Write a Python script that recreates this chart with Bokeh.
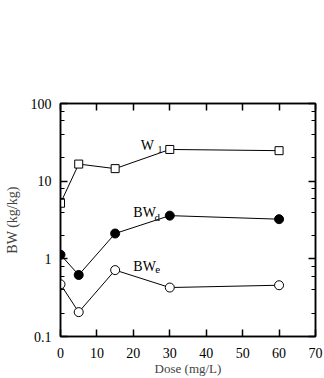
from bokeh.plotting import figure
from bokeh.models import LinearAxis, LogAxis, Label, FixedTicker, LogTicker, Range1d, CustomJSTickFormatter
from bokeh.embed import file_html
from bokeh.resources import INLINE

dose = [0, 5, 15, 30, 60]
w1 = [5.2, 16.6, 14.5, 25.6, 24.7]
bwd = [1.13, 0.62, 2.12, 3.6, 3.24]
bwe = [0.47, 0.206, 0.716, 0.427, 0.457]
x_ticks = [0, 10, 20, 30, 40, 50, 60, 70]
y_ticks = [0.1, 1, 10, 100]
y_tick_labels = ["0.1", "1", "10", "100"]
y_label = "BW (kg/kg)"
x_label = "Dose (mg/L)"

FONT = "Liberation Serif"

p = figure(width=324, height=378, output_backend="svg", toolbar_location=None,
           y_axis_type="log", x_range=Range1d(0, 70), y_range=Range1d(0.1, 100),
           min_border_left=60, min_border_right=9, min_border_top=103, min_border_bottom=38)
p.background_fill_color = "white"
p.border_fill_color = "white"
p.outline_line_color = "black"
p.outline_line_width = 1.5
p.grid.visible = False

blank = CustomJSTickFormatter(code="return ' ';")

def style(ax, labels=True):
    ax.axis_line_color = "black"
    ax.axis_line_width = 1.5
    ax.major_tick_in = 7
    ax.major_tick_out = 0
    ax.major_tick_line_width = 1.5
    ax.minor_tick_in = 4
    ax.minor_tick_out = 0
    ax.major_label_text_font = FONT
    ax.major_label_text_font_size = "14px"
    ax.major_label_text_color = "black"
    ax.axis_label_text_font = FONT
    ax.axis_label_text_font_style = "normal"
    ax.axis_label_text_font_size = "14px"
    if not labels:
        ax.formatter = blank
        ax.major_label_text_font_size = "2px"
        ax.major_label_standoff = 0

xb = p.xaxis[0]
xb.ticker = FixedTicker(ticks=x_ticks)
style(xb)
xb.major_label_standoff = 11
xb.axis_label = x_label
xb.axis_label_standoff = 0
xb.axis_label_text_font_size = "13px"

yl = p.yaxis[0]
yl.ticker = LogTicker()
style(yl)
yl.major_label_overrides = {t: s for t, s in zip(y_ticks, y_tick_labels)}
yl.major_label_standoff = 9
yl.axis_label = y_label
yl.axis_label_standoff = 8

xt = LinearAxis(ticker=FixedTicker(ticks=x_ticks))
style(xt, labels=False)
p.add_layout(xt, "above")
yr = LogAxis(ticker=LogTicker())
style(yr, labels=False)
p.add_layout(yr, "right")

for ys, kind in [(w1, "square"), (bwd, "filled"), (bwe, "open")]:
    p.line(dose, ys, line_color="black", line_width=1)
    if kind == "square":
        p.scatter(dose, ys, marker="square", size=8, fill_color="white", line_color="black", line_width=1)
    elif kind == "filled":
        p.scatter(dose, ys, marker="circle", size=9, fill_color="black", line_color="black")
    else:
        p.scatter(dose, ys, marker="circle", size=9, fill_color="white", line_color="black", line_width=1)

def lab(x, y, t, size="14px", align="left"):
    p.add_layout(Label(x=x, y=y, text=t, text_font=FONT, text_font_size=size,
                       text_color="black", text_baseline="alphabetic", text_align=align))

lab(22.0, 29.1, "W")
lab(26.6, 25.5, "1", "10px")
lab(20.0, 3.94, "BW")
lab(25.8, 3.50, "d", "11px")
lab(20.0, 0.805, "BW")
lab(26.0, 0.736, "e", "11px")

html = file_html(p, INLINE)
html = html.replace("<body>", "<body style=\"margin:0\">")
open("out.html", "w").write(html)
